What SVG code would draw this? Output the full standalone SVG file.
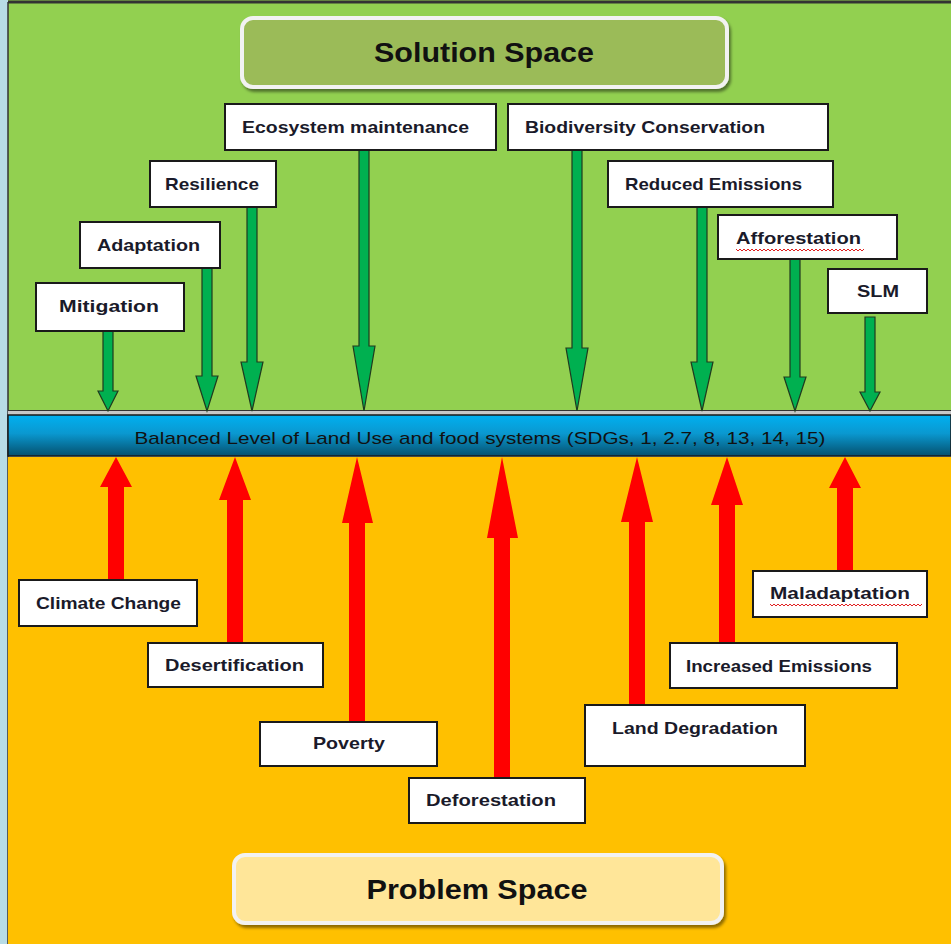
<svg xmlns="http://www.w3.org/2000/svg" width="951" height="944" viewBox="0 0 951 944">
<defs>
<linearGradient id="band" x1="0" y1="0" x2="0" y2="1">
<stop offset="0" stop-color="#00b0f0"/>
<stop offset="0.45" stop-color="#0a98d0"/>
<stop offset="1" stop-color="#05506e"/>
</linearGradient>
<filter id="sh" x="-5%" y="-20%" width="110%" height="150%">
<feDropShadow dx="2" dy="3" stdDeviation="1.5" flood-color="#000" flood-opacity="0.45"/>
</filter>
<style>
.box{fill:#fff;stroke:#1a1a1a;stroke-width:2}
.lbl{font-family:"Liberation Sans",Arial,sans-serif;font-weight:bold;font-size:17px;fill:#1a1a2a}
.title{font-family:"Liberation Sans",Arial,sans-serif;font-weight:bold;font-size:28px;fill:#111}
.garrow{fill:#00b050;stroke:#1f3a1f;stroke-width:1.2;stroke-linejoin:miter}
.rarrow{fill:#ff0000}
.squig{fill:none;stroke:#e02020;stroke-width:1}
</style>
</defs>
<!-- background -->
<rect x="0" y="0" width="951" height="944" fill="#b8dce6"/>
<rect x="8" y="0" width="943" height="413" fill="#92d050"/>
<line x1="8" y1="2" x2="951" y2="2" stroke="#333" stroke-width="3"/>
<line x1="8" y1="2" x2="8" y2="944" stroke="#333" stroke-width="1.5"/>
<rect x="8" y="410" width="943" height="5" fill="#c8c8c8"/>
<line x1="8" y1="410.5" x2="951" y2="410.5" stroke="#333" stroke-width="1"/>
<rect x="8" y="457" width="943" height="487" fill="#ffc000"/>

<g id="band-node">
<rect x="8" y="415" width="943" height="41" fill="url(#band)" stroke="#1a1a1a" stroke-width="1.5"/>
<text x="480" y="444" text-anchor="middle" font-family="'Liberation Sans',Arial,sans-serif" font-size="17" fill="#111" textLength="691" lengthAdjust="spacingAndGlyphs">Balanced Level of Land Use and food systems (SDGs, 1, 2.7, 8, 13, 14, 15)</text>
</g>

<g id="solution-space">
<rect x="242" y="18" width="485" height="69" rx="11" fill="#9bbb59" stroke="#f2f2f2" stroke-width="4" filter="url(#sh)"/>
<text class="title" x="484" y="62" text-anchor="middle" textLength="220" lengthAdjust="spacingAndGlyphs">Solution Space</text>
</g>

<g id="problem-space">
<rect x="234" y="855" width="488" height="68" rx="11" fill="#ffe699" stroke="#f2f2f2" stroke-width="4" filter="url(#sh)"/>
<text class="title" x="477" y="899" text-anchor="middle" font-size="30" textLength="221" lengthAdjust="spacingAndGlyphs">Problem Space</text>
</g>

<g id="connectors">
<!-- green arrows down -->
<path class="garrow" d="M103,329 H113 V391 H118 L108,411 L98,391 H103 Z"/>
<path class="garrow" d="M202,268 H212 V376 H218 L207,411 L196,376 H202 Z"/>
<path class="garrow" d="M247,207 H257 V362 H263 L252,411 L241,362 H247 Z"/>
<path class="garrow" d="M359,150 H369 V346 H375 L364,411 L353,346 H359 Z"/>
<path class="garrow" d="M572,150 H582 V348 H588 L577,411 L566,348 H572 Z"/>
<path class="garrow" d="M697,207 H707 V362 H713 L702,411 L691,362 H697 Z"/>
<path class="garrow" d="M790,259 H800 V377 H806 L795,411 L784,377 H790 Z"/>
<path class="garrow" d="M865,317 H875 V392 H880 L870,411 L860,392 H865 Z"/>
<!-- red arrows up -->
<path class="rarrow" d="M108,581 V487 H100 L116,457 L132,487 H124 V581 Z"/>
<path class="rarrow" d="M227,644 V500 H219 L235,457 L251,500 H243 V644 Z"/>
<path class="rarrow" d="M349,723 V523 H342 L357,457 L373,523 H365 V723 Z"/>
<path class="rarrow" d="M494,779 V538 H487 L502,457 L518,538 H510 V779 Z"/>
<path class="rarrow" d="M629,706 V522 H621 L637,457 L653,522 H645 V706 Z"/>
<path class="rarrow" d="M719,644 V505 H711 L727,457 L743,505 H735 V644 Z"/>
<path class="rarrow" d="M837,571 V488 H829 L845,457 L861,488 H853 V571 Z"/>
</g>

<g id="ecosystem-maintenance">
<rect class="box" x="225" y="104" width="271" height="46"/>
<text class="lbl" x="355.5" y="133" text-anchor="middle" textLength="227" lengthAdjust="spacingAndGlyphs">Ecosystem maintenance</text>
</g>
<g id="biodiversity-conservation">
<rect class="box" x="508" y="104" width="320" height="46"/>
<text class="lbl" x="525" y="133" textLength="240" lengthAdjust="spacingAndGlyphs">Biodiversity Conservation</text>
</g>
<g id="resilience">
<rect class="box" x="150" y="161" width="126" height="46"/>
<text class="lbl" x="165" y="190" textLength="94" lengthAdjust="spacingAndGlyphs">Resilience</text>
</g>
<g id="reduced-emissions">
<rect class="box" x="608" y="161" width="225" height="46"/>
<text class="lbl" x="625" y="190" textLength="177" lengthAdjust="spacingAndGlyphs">Reduced Emissions</text>
</g>
<g id="adaptation">
<rect class="box" x="80" y="222" width="140" height="46"/>
<text class="lbl" x="97" y="251" textLength="103" lengthAdjust="spacingAndGlyphs">Adaptation</text>
</g>
<g id="afforestation">
<rect class="box" x="718" y="215" width="179" height="44"/>
<text class="lbl" x="736" y="244" textLength="125" lengthAdjust="spacingAndGlyphs">Afforestation</text>
<path class="squig" d="M736,249 l2,2 l2,-2 l2,2 l2,-2 l2,2 l2,-2 l2,2 l2,-2 l2,2 l2,-2 l2,2 l2,-2 l2,2 l2,-2 l2,2 l2,-2 l2,2 l2,-2 l2,2 l2,-2 l2,2 l2,-2 l2,2 l2,-2 l2,2 l2,-2 l2,2 l2,-2 l2,2 l2,-2 l2,2 l2,-2 l2,2 l2,-2 l2,2 l2,-2 l2,2 l2,-2 l2,2 l2,-2 l2,2 l2,-2 l2,2 l2,-2 l2,2 l2,-2 l2,2 l2,-2 l2,2 l2,-2 l2,2 l2,-2 l2,2 l2,-2 l2,2 l2,-2 l2,2 l2,-2 l2,2 l2,-2 l2,2 l2,-2 l2,2 l2,-2"/>
</g>
<g id="mitigation">
<rect class="box" x="36" y="283" width="148" height="48"/>
<text class="lbl" x="59" y="312" textLength="100" lengthAdjust="spacingAndGlyphs">Mitigation</text>
</g>
<g id="slm">
<rect class="box" x="828" y="269" width="99" height="44"/>
<text class="lbl" x="857" y="297" textLength="42" lengthAdjust="spacingAndGlyphs">SLM</text>
</g>

<g id="climate-change">
<rect class="box" x="19" y="580" width="178" height="46"/>
<text class="lbl" x="36" y="609" textLength="145" lengthAdjust="spacingAndGlyphs">Climate Change</text>
</g>
<g id="desertification">
<rect class="box" x="148" y="643" width="175" height="44"/>
<text class="lbl" x="165" y="671" textLength="139" lengthAdjust="spacingAndGlyphs">Desertification</text>
</g>
<g id="poverty">
<rect class="box" x="260" y="722" width="177" height="44"/>
<text class="lbl" x="313" y="749" textLength="72" lengthAdjust="spacingAndGlyphs">Poverty</text>
</g>
<g id="deforestation">
<rect class="box" x="409" y="778" width="176" height="45"/>
<text class="lbl" x="426" y="806" textLength="130" lengthAdjust="spacingAndGlyphs">Deforestation</text>
</g>
<g id="land-degradation">
<rect class="box" x="585" y="705" width="220" height="61"/>
<text class="lbl" x="612" y="734" textLength="166" lengthAdjust="spacingAndGlyphs">Land Degradation</text>
</g>
<g id="increased-emissions">
<rect class="box" x="670" y="643" width="227" height="45"/>
<text class="lbl" x="686" y="672" textLength="186" lengthAdjust="spacingAndGlyphs">Increased Emissions</text>
</g>
<g id="maladaptation">
<rect class="box" x="753" y="571" width="174" height="46"/>
<text class="lbl" x="770" y="599" textLength="140" lengthAdjust="spacingAndGlyphs">Maladaptation</text>
<path class="squig" d="M770,604 l2,2 l2,-2 l2,2 l2,-2 l2,2 l2,-2 l2,2 l2,-2 l2,2 l2,-2 l2,2 l2,-2 l2,2 l2,-2 l2,2 l2,-2 l2,2 l2,-2 l2,2 l2,-2 l2,2 l2,-2 l2,2 l2,-2 l2,2 l2,-2 l2,2 l2,-2 l2,2 l2,-2 l2,2 l2,-2 l2,2 l2,-2 l2,2 l2,-2 l2,2 l2,-2 l2,2 l2,-2 l2,2 l2,-2 l2,2 l2,-2 l2,2 l2,-2 l2,2 l2,-2 l2,2 l2,-2 l2,2 l2,-2 l2,2 l2,-2 l2,2 l2,-2 l2,2 l2,-2 l2,2 l2,-2 l2,2 l2,-2 l2,2 l2,-2 l2,2 l2,-2 l2,2 l2,-2 l2,2 l2,-2 l2,2 l2,-2 l2,2 l2,-2 l2,2 l2,-2"/>
</g>
</svg>
